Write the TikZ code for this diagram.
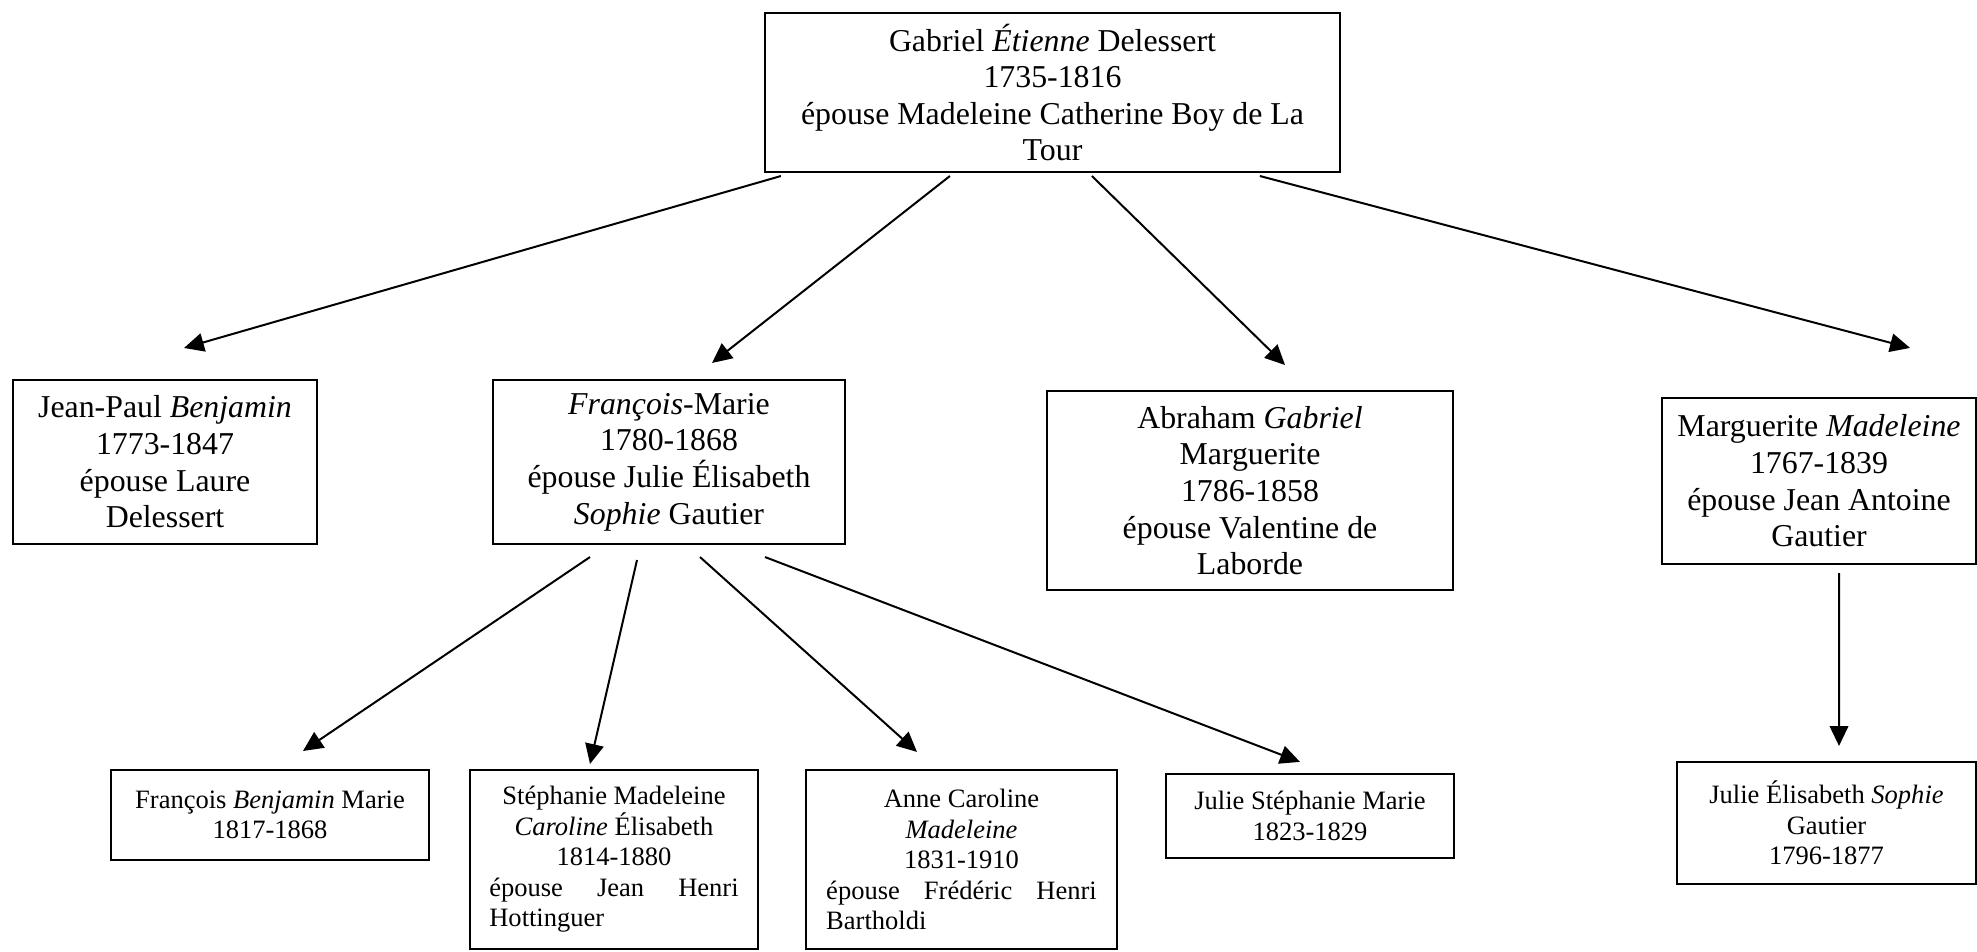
\documentclass[tikz,border=0pt]{standalone}
\usepackage{fontspec}
\setmainfont{Liberation Serif}
\usepackage{tikz}
\usetikzlibrary{arrows.meta, positioning, calc}
\tikzset{
    person/.style={draw, line width=0.8pt, align=center, inner sep=0pt},
    big/.style={person, font=\fontsize{12}{13.8}\selectfont},
    small/.style={person, font=\fontsize{10}{11.5}\selectfont},
    descent/.style={line width=0.75pt, -{Triangle[length=7.5pt, width=7pt]}}
}

\begin{document}
\begin{tikzpicture}[x=0.377pt, y=-0.377pt]
    \useasboundingbox (0,0) rectangle (1977,951);
    % Parents
    \node[big, minimum width=216.8pt, minimum height=59.9pt] (top) at (1052.5,92.5)
        {Gabriel \textit{Étienne} Delessert\\ 1735-1816\\ épouse Madeleine Catherine Boy de La\\ Tour};
    % Children
    \node[big, minimum width=114.6pt, minimum height=61.8pt] (jp) at (165,462)
        {Jean-Paul \textit{Benjamin}\\ 1773-1847\\ épouse Laure\\ Delessert};
    \node[big, minimum width=132.7pt, minimum height=61.8pt] (fm) at (669,462)
        {\textit{François}-Marie\\ 1780-1868\\ épouse Julie Élisabeth\\ \textit{Sophie} Gautier};
    \node[big, minimum width=153.1pt, minimum height=75pt] (ag) at (1250,490.5)
        {Abraham \textit{Gabriel}\\ Marguerite\\ 1786-1858\\ épouse Valentine de\\ Laborde};
    \node[big, minimum width=118.4pt, minimum height=62.6pt] (mm) at (1819,481)
        {Marguerite \textit{Madeleine}\\ 1767-1839\\ épouse Jean Antoine\\ Gautier};
    % Grandchildren
    \node[small, minimum width=119.9pt, minimum height=33.9pt] (fb) at (270,815)
        {François \textit{Benjamin} Marie\\ 1817-1868};
    \node[small, minimum width=108.6pt, minimum height=67.5pt] (st) at (614,859.5)
        {Stéphanie Madeleine\\ \textit{Caroline} Élisabeth\\ 1814-1880\\
         \makebox[94pt][s]{épouse Jean Henri}\\ \makebox[94pt][l]{Hottinguer}};
    \node[small, minimum width=117.2pt, minimum height=67.5pt] (ac) at (961.5,859.5)
        {Anne Caroline\\ \textit{Madeleine}\\ 1831-1910\\
         \makebox[102pt][s]{épouse Frédéric Henri}\\ \makebox[102pt][l]{Bartholdi}};
    \node[small, minimum width=108.6pt, minimum height=31.7pt] (js) at (1310,816)
        {Julie Stéphanie Marie\\ 1823-1829};
    \node[small, minimum width=112.7pt, minimum height=46pt] (je) at (1826.5,823)
        {Julie Élisabeth \textit{Sophie}\\ Gautier\\ 1796-1877};
    % Arrows
    \draw[descent] ($(top.south west)+(17,3)$) -- ($(jp.north)+(19,-31)$);
    \draw[descent] ($(top.south west)+(186,3)$) -- ($(fm.north)+(43,-16)$);
    \draw[descent] ($(top.south west)+(328,3)$) -- ($(ag.north)+(35,-25)$);
    \draw[descent] ($(top.south west)+(496,3)$) -- ($(mm.north)+(91,-49)$);
    \draw[descent] ($(fm.south)+(-79,12)$) -- ($(fb.north)+(33,-18)$);
    \draw[descent] ($(fm.south)+(-32,15)$) -- ($(st.north)+(-24,-5)$);
    \draw[descent] ($(fm.south)+(31,12)$) -- ($(ac.north)+(-44.5,-17)$);
    \draw[descent] ($(fm.south)+(96,12)$) -- ($(js.north)+(-10,-11)$);
    \draw[descent] ($(mm.south)+(20,8)$) -- ($(je.north)+(12.5,-15)$);
\end{tikzpicture}
\end{document}
